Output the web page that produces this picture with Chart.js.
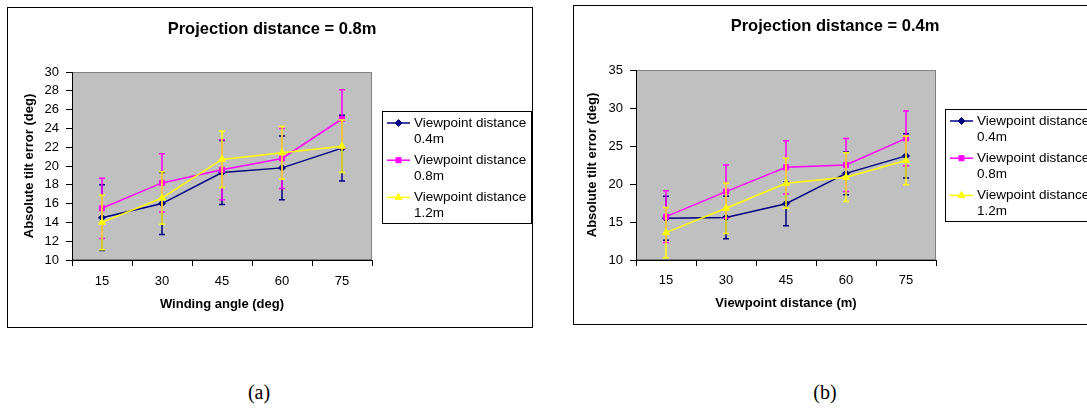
<!DOCTYPE html>
<html lang="en">
<head>
  <meta charset="UTF-8" />
  <title>Absolute tilt error charts</title>
  <script src="https://cdn.jsdelivr.net/npm/chart.js"></script>
  <style>
    html, body { margin: 0; padding: 0; background: #fff; overflow: hidden; }
    body { width: 1087px; height: 409px; position: relative; }
    canvas { position: absolute; }
    #chartA { left: 7px; top: 7px; }
    #chartB { left: 573px; top: 5px; }
    .caption {
      position: absolute; width: 100px; text-align: center;
      font-family: "Liberation Serif", "DejaVu Serif", serif; font-size: 20px; line-height: 24px;
    }
  </style>
</head>
<body>
  <canvas id="chartA" width="526" height="321"></canvas>
  <canvas id="chartB" width="530" height="320"></canvas>
  <div class="caption" style="left:209px; top:380px;">(a)</div>
  <div class="caption" style="left:775px; top:380px;">(b)</div>

  <script>
    // categories on the x axis (both charts)
    const angles = ['15', '30', '45', '60', '75'];
    const seriesNames = [['Viewpoint distance', '0.4m'], ['Viewpoint distance', '0.8m'], ['Viewpoint distance', '1.2m']];

    // (a) projection distance 0.8m
    const navyA = [14.5, 16.0, 19.3, 19.8, 21.9];
    const navyErrA = [3.5, 3.3, 3.4, 3.4, 3.5];
    const pinkA = [15.5, 18.2, 19.6, 20.8, 25.0];
    const pinkErrA = [3.2, 3.1, 3.2, 3.2, 3.1];
    const yellowA = [14.0, 16.6, 20.7, 21.4, 22.1];
    const yellowErrA = [2.9, 2.8, 3.0, 2.8, 2.8];

    // (b) projection distance 0.4m
    const navyB = [15.5, 15.6, 17.4, 21.4, 23.7];
    const navyErrB = [2.9, 2.8, 2.9, 2.8, 2.9];
    const pinkB = [15.7, 19.0, 22.2, 22.5, 26.0];
    const pinkErrB = [3.4, 3.5, 3.5, 3.5, 3.6];
    const yellowB = [13.6, 16.8, 20.1, 20.9, 23.1];
    const yellowErrB = [3.3, 3.3, 3.3, 3.2, 3.2];

    const yTicksA = { min: 10, max: 30, step: 2 };
    const yTicksB = { min: 10, max: 35, step: 5 };

    const colors = ['#000080', '#FF00FF', '#FFFF00'];
    const styles = [
      { pointStyle: 'rectRot', radius: 3.5 },
      { pointStyle: 'rect', radius: 3.6 },
      { pointStyle: 'triangle', radius: 4 }
    ];
    const FONT = '"Liberation Sans", Arial, sans-serif';
    Chart.defaults.font.family = FONT;
    Chart.defaults.color = '#000';

    // gray plot area + outer frame
    const plotBack = {
      id: 'plotBack',
      beforeDraw(chart) {
        const { ctx, chartArea: a, width, height } = chart;
        ctx.save();
        ctx.fillStyle = '#fff';
        ctx.fillRect(0, 0, width, height);
        ctx.fillStyle = '#C0C0C0';
        ctx.fillRect(a.left, a.top, a.right - a.left, a.bottom - a.top);
        ctx.strokeStyle = '#808080';
        ctx.lineWidth = 1;
        ctx.strokeRect(a.left + 0.5, a.top + 0.5, a.right - a.left - 1, a.bottom - a.top - 1);
        ctx.strokeStyle = '#000';
        ctx.strokeRect(0.5, 0.5, width - 1, height - 1);
        ctx.restore();
      }
    };

    // chart title centred on the whole frame (the built-in one centres left of the legend space)
    const frameTitle = {
      id: 'frameTitle',
      afterDraw(chart, args, opts) {
        const ctx = chart.ctx;
        ctx.save();
        ctx.font = 'bold 16.5px ' + FONT;
        ctx.fillStyle = '#000';
        ctx.textAlign = 'center';
        ctx.textBaseline = 'middle';
        ctx.fillText(opts.text, opts.x, opts.y);
        ctx.restore();
      }
    };

    // vertical error bars, drawn under each series
    const errorBars = {
      id: 'errorBars',
      beforeDatasetDraw(chart, args) {
        const ds = chart.data.datasets[args.index];
        if (!ds.errors) return;
        const y = chart.scales.y;
        const ctx = chart.ctx;
        ctx.save();
        ctx.strokeStyle = ds.borderColor;
        ctx.lineWidth = 1.5;
        args.meta.data.forEach((pt, i) => {
          const top = y.getPixelForValue(ds.data[i] + ds.errors[i]);
          const bot = y.getPixelForValue(ds.data[i] - ds.errors[i]);
          ctx.beginPath();
          ctx.moveTo(pt.x, top); ctx.lineTo(pt.x, bot);
          ctx.moveTo(pt.x - 3, top); ctx.lineTo(pt.x + 3, top);
          ctx.moveTo(pt.x - 3, bot); ctx.lineTo(pt.x + 3, bot);
          ctx.stroke();
        });
        ctx.restore();
      }
    };

    // boxed legend with two-line labels
    const boxLegend = {
      id: 'boxLegend',
      afterDraw(chart, args, opts) {
        const ctx = chart.ctx;
        const left = chart.chartArea.right + opts.gap;
        ctx.save();
        ctx.fillStyle = '#fff';
        ctx.fillRect(left, opts.top, opts.width, opts.height);
        ctx.strokeStyle = '#000';
        ctx.lineWidth = 1;
        ctx.strokeRect(left + 0.5, opts.top + 0.5, opts.width, opts.height);
        ctx.font = '13.5px ' + FONT;
        ctx.textBaseline = 'middle';
        chart.data.datasets.forEach((ds, i) => {
          const rowY = opts.top + opts.first + i * opts.pitch;
          ctx.strokeStyle = ds.borderColor;
          ctx.fillStyle = ds.backgroundColor;
          ctx.lineWidth = 1.5;
          ctx.beginPath();
          ctx.moveTo(left + 5, rowY);
          ctx.lineTo(left + 28, rowY);
          ctx.stroke();
          ctx.lineWidth = 1;
          Chart.helpers.drawPoint(ctx, { pointStyle: ds.pointStyle, radius: ds.pointRadius, rotation: 0, borderWidth: 1 }, left + 16.5, rowY);
          ctx.fillStyle = '#000';
          ds.label.forEach((line, k) => ctx.fillText(line, left + 32, rowY + k * opts.lineGap));
        });
        ctx.restore();
      }
    };

    function makeDatasets(values, errors) {
      return values.map((v, i) => ({
        label: seriesNames[i],
        data: v,
        errors: errors[i],
        borderColor: colors[i],
        backgroundColor: colors[i],
        borderWidth: 1.5,
        pointStyle: styles[i].pointStyle,
        pointRadius: styles[i].radius,
        pointBorderWidth: 1,
        tension: 0,
        order: 2 - i
      }));
    }

    function makeOptions(o) {
      return {
        responsive: false,
        animation: false,
        devicePixelRatio: 1,
        layout: { padding: { left: 0, right: o.padRight, top: 65, bottom: 0 } },
        plugins: {
          legend: { display: false },
          tooltip: { enabled: false },
          title: { display: false },
          frameTitle: { text: o.title, x: o.titleX, y: o.titleY },
          boxLegend: { gap: o.legendGap, top: 104, height: 112, width: 149, first: 12, pitch: 37.2, lineGap: 16 }
        },
        scales: {
          x: {
            offset: true,
            grid: { display: true, drawOnChartArea: false, drawTicks: true, tickLength: 6, color: '#000', offset: true },
            border: { display: true, color: '#000', width: 1 },
            ticks: { color: '#000', font: { size: 13 }, padding: o.xTickPad },
            title: { display: true, text: o.xTitle, color: '#000', font: { size: 13, weight: 'bold' }, padding: { top: 0, bottom: o.xTitleBottom } },
            afterFit(scale) { scale.height = o.xHeight; }
          },
          y: {
            min: o.yTicks.min, max: o.yTicks.max,
            grid: { display: true, drawOnChartArea: false, drawTicks: true, tickLength: 6, color: '#000' },
            border: { display: true, color: '#000', width: 1 },
            ticks: { stepSize: o.yTicks.step, color: '#000', font: { size: 13 }, padding: 7 },
            title: { display: true, text: 'Absolute tilt error (deg)', color: '#000', font: { size: 13, weight: 'bold' }, padding: { top: o.yTitleTop, bottom: 0 } },
            afterFit(scale) { scale.width = o.yWidth; }
          }
        }
      };
    }

    document.addEventListener('DOMContentLoaded', function () {
      new Chart(document.getElementById('chartA').getContext('2d'), {
        type: 'line',
        data: { labels: angles, datasets: makeDatasets([navyA, pinkA, yellowA], [navyErrA, pinkErrA, yellowErrA]) },
        options: makeOptions({
          title: 'Projection distance = 0.8m', titleX: 265, titleY: 22,
          xTitle: 'Winding angle (deg)', xHeight: 68, xTickPad: 8, xTitleBottom: 16,
          yTicks: yTicksA, yWidth: 65, yTitleTop: 15, padRight: 161, legendGap: 10
        }),
        plugins: [plotBack, errorBars, boxLegend, frameTitle]
      });

      new Chart(document.getElementById('chartB').getContext('2d'), {
        type: 'line',
        data: { labels: angles, datasets: makeDatasets([navyB, pinkB, yellowB], [navyErrB, pinkErrB, yellowErrB]) },
        options: makeOptions({
          title: 'Projection distance = 0.4m', titleX: 262, titleY: 21,
          xTitle: 'Viewpoint distance (m)', xHeight: 65, xTickPad: 7, xTitleBottom: 14,
          yTicks: yTicksB, yWidth: 63, yTitleTop: 12, padRight: 167, legendGap: 9
        }),
        plugins: [plotBack, errorBars, boxLegend, frameTitle]
      });
    });
  </script>
</body>
</html>
